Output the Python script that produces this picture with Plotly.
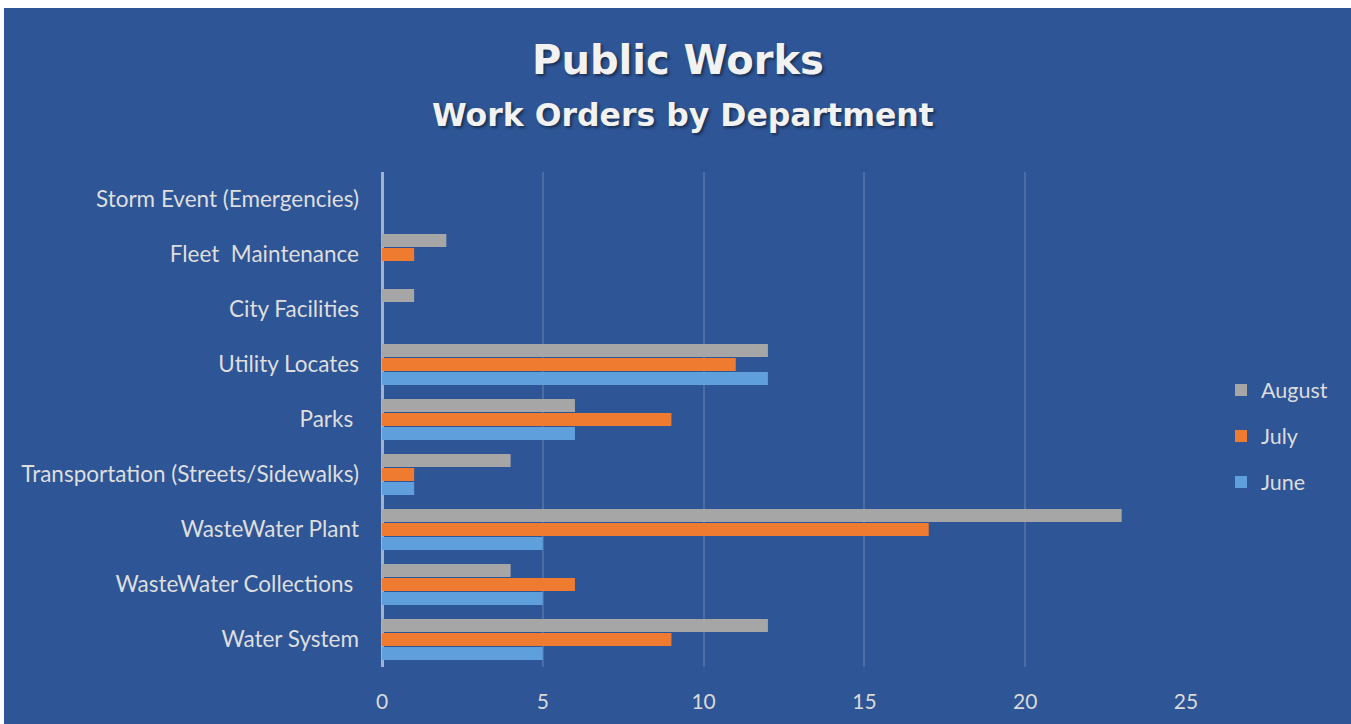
import plotly.graph_objects as go

categories = [
    "Water System",
    "WasteWater Collections\u00a0",
    "WasteWater Plant",
    "Transportation (Streets/Sidewalks)",
    "Parks\u00a0",
    "Utility Locates",
    "City Facilities",
    "Fleet\u00a0 Maintenance",
    "Storm Event (Emergencies)",
]
june = [5, 5, 5, 1, 6, 12, 0, 0, 0]
july = [9, 6, 17, 1, 9, 11, 0, 1, 0]
august = [12, 4, 23, 4, 6, 12, 1, 2, 0]

series = [("June", june, "#5FA0DC", 3), ("July", july, "#EE7B2F", 2), ("August", august, "#A6A6A6", 1)]

BG = "#2E5596"
W, H = 1351, 724
L, R, T, B = 382, 1186, 172, 667

fig = go.Figure()
for name, vals, col, rank in series:
    fig.add_trace(go.Bar(
        y=categories, x=vals, name=name, orientation="h",
        marker=dict(color=col, line=dict(width=0)),
        legendgroup=name, legendrank=rank,
    ))

def px_x(p):
    return (p - L) / (R - L)

def px_y(p):
    return (B - p) / (B - T)

fig.update_layout(
    width=W, height=H,
    margin=dict(l=L, r=W - R, t=T, b=H - B, pad=0),
    paper_bgcolor=BG, plot_bgcolor=BG,
    barmode="group", bargap=0.236, bargroupgap=0.07,
    font=dict(family="Lato, sans-serif", color="#DCDCDC", size=21),
    title=dict(
        text="Public Works",
        x=678 / W, xanchor="center", y=1 - 60 / H, yanchor="middle", yref="container",
        font=dict(family="DejaVu Sans", size=40, weight="bold", color="#F2F2F2",
                  shadow="2px 2px 3px rgba(0,0,0,0.45)"),
    ),
    xaxis=dict(
        range=[0, 25], tickvals=[0, 5, 10, 15, 20, 25],
        showgrid=True, gridcolor="rgba(255,255,255,0.14)", gridwidth=1.5,
        zeroline=True, zerolinecolor="rgba(255,255,255,0.55)", zerolinewidth=2.5,
        showline=False, ticks="", ticklabelstandoff=20,
        tickfont=dict(size=21, color="#D9D9D9"),
        fixedrange=True,
    ),
    yaxis=dict(
        type="category", showgrid=False, zeroline=False, showline=False,
        ticks="", ticklabelstandoff=22,
        tickfont=dict(size=22.5, color="#DEDEDE"),
        fixedrange=True,
    ),
    legend=dict(
        x=px_x(1221), xanchor="left", y=px_y(436), yanchor="middle",
        traceorder="grouped", tracegroupgap=15,
        font=dict(size=21.5, color="#DCDCDC"), bgcolor="rgba(0,0,0,0)",
        itemwidth=30,
    ),
    showlegend=True,
    annotations=[dict(
        text="Work Orders by Department", xref="paper", yref="paper",
        x=px_x(683), y=px_y(115), xanchor="center", yanchor="middle",
        showarrow=False,
        font=dict(family="DejaVu Sans", size=31.5, weight="bold", color="#F2F2F2",
                  shadow="2px 2px 3px rgba(0,0,0,0.45)"),
    )],
    shapes=[
        dict(type="rect", xref="paper", yref="paper", layer="above",
             x0=px_x(-5), x1=px_x(W + 5), y0=px_y(8), y1=px_y(-5),
             fillcolor="white", line=dict(width=0)),
        dict(type="rect", xref="paper", yref="paper", layer="above",
             x0=px_x(-5), x1=px_x(4), y0=px_y(H + 5), y1=px_y(-5),
             fillcolor="white", line=dict(width=0)),
    ],
)

fig.write_html("out.html")
